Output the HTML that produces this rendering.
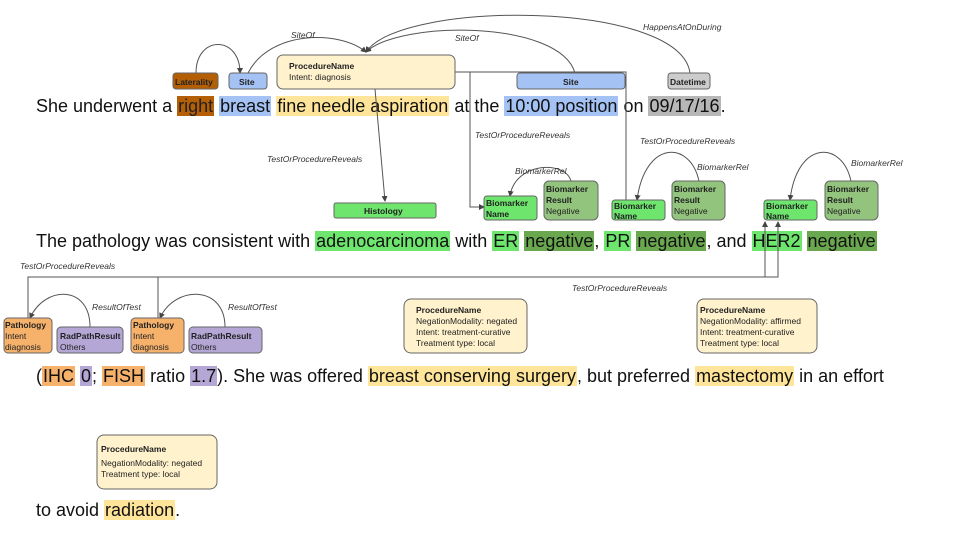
<!DOCTYPE html>
<html><head><meta charset="utf-8"><style>
body{margin:0;width:960px;height:540px;background:#fff;position:relative;overflow:hidden;font-family:"Liberation Sans",Arial,sans-serif}
.s{position:absolute;left:36px;font-size:18px;white-space:nowrap;color:#111;line-height:22px}
.s span{padding:0 1px}
.br{background:#b45f06;color:#222}.bl{background:#a4c2f4}.ye{background:#ffe599}.gr{background:#b7b7b7}
.g1{background:#6ee66e}.g2{background:#6aa84f}.or{background:#f6b26b}.lv{background:#b4a7d6}
svg{position:absolute;left:0;top:0}
svg text{font-family:"Liberation Sans",Arial,sans-serif}
</style></head><body>
<div class="s" style="top:95px">She underwent a <span class="br">right</span> <span class="bl">breast</span> <span class="ye">fine needle aspiration</span> at the <span class="bl">10:00 position</span> on <span class="gr">09/17/16</span>.</div>
<div class="s" style="top:230px">The pathology was consistent with <span class="g1">adenocarcinoma</span> with <span class="g1">ER</span> <span class="g2">negative</span>, <span class="g1">PR</span> <span class="g2">negative</span>, and <span class="g1">HER2</span> <span class="g2">negative</span></div>
<div class="s" style="top:365px">(<span class="or">IHC</span> <span class="lv">0</span>; <span class="or">FISH</span> ratio <span class="lv">1.7</span>). She was offered <span class="ye">breast conserving surgery</span>, but preferred <span class="ye">mastectomy</span> in an effort</div>
<div class="s" style="top:499px">to avoid <span class="ye">radiation</span>.</div>
<svg width="960" height="540" viewBox="0 0 960 540">
<defs><marker id="a" markerWidth="6" markerHeight="6" refX="5" refY="3" orient="auto"><path d="M0,0L6,3L0,6z" fill="#444"/></marker></defs>
<g fill="none" stroke="#555" stroke-width="1">
<path d="M196,73 C196,35 240,35 240,73" marker-end="url(#a)"/>
<path d="M248,73 C270,30 340,30 366,52" marker-end="url(#a)"/>
<path d="M575,73 C560,20 400,20 366,52" marker-end="url(#a)"/>
<path d="M690,73 C680,0 400,0 366,52" marker-end="url(#a)"/>
<path d="M455,72 H626 V205 H612" marker-end="url(#a)"/>
<path d="M470,72 V207 H484" marker-end="url(#a)"/>
<path d="M375,89 L385,201" marker-end="url(#a)"/>
<path d="M571,181 C565,160 515,162 510,196" marker-end="url(#a)"/>
<path d="M699,181 C690,140 645,140 637,200" marker-end="url(#a)"/>
<path d="M851,181 C842,140 797,140 790,200" marker-end="url(#a)"/>
<path d="M28,318 V277 H778 V222" marker-end="url(#a)"/>
<path d="M158,318 V277"/>
<path d="M765,277 V222" marker-end="url(#a)"/>
<path d="M90,327 C90,285 45,285 30,318" marker-end="url(#a)"/>
<path d="M225,327 C225,285 175,285 160,318" marker-end="url(#a)"/>
</g>
<g font-style="italic" font-size="8.5" fill="#333">
<text x="291" y="38">SiteOf</text><text x="455" y="41">SiteOf</text><text x="643" y="30">HappensAtOnDuring</text>
<text x="267" y="162">TestOrProcedureReveals</text><text x="475" y="138">TestOrProcedureReveals</text><text x="640" y="144">TestOrProcedureReveals</text>
<text x="515" y="174">BiomarkerRel</text><text x="697" y="170">BiomarkerRel</text><text x="851" y="166">BiomarkerRel</text>
<text x="20" y="269">TestOrProcedureReveals</text><text x="572" y="291">TestOrProcedureReveals</text>
<text x="92" y="310">ResultOfTest</text><text x="228" y="310">ResultOfTest</text>
</g>
<g stroke="#666" stroke-width="1">
<rect x="173" y="73" width="45" height="16" rx="3" fill="#b45f06"/>
<rect x="229" y="73" width="38" height="16" rx="3" fill="#a4c2f4"/>
<rect x="277" y="55" width="178" height="34" rx="6" fill="#fff2cc"/>
<rect x="517" y="73" width="108" height="16" rx="3" fill="#a4c2f4"/>
<rect x="668" y="73" width="42" height="16" rx="3" fill="#cccccc"/>
<rect x="334" y="203" width="102" height="15" rx="2" fill="#6ee66e"/>
<rect x="484" y="196" width="53" height="24" rx="3" fill="#6ee66e"/>
<rect x="544" y="181" width="54" height="39" rx="5" fill="#93c47d"/>
<rect x="612" y="200" width="53" height="20" rx="3" fill="#6ee66e"/>
<rect x="672" y="181" width="53" height="39" rx="5" fill="#93c47d"/>
<rect x="764" y="200" width="53" height="20" rx="3" fill="#6ee66e"/>
<rect x="825" y="181" width="53" height="39" rx="5" fill="#93c47d"/>
<rect x="4" y="318" width="48" height="35" rx="4" fill="#f6b26b"/>
<rect x="57" y="327" width="66" height="26" rx="4" fill="#b4a7d6"/>
<rect x="131" y="318" width="53" height="35" rx="4" fill="#f6b26b"/>
<rect x="189" y="327" width="73" height="26" rx="4" fill="#b4a7d6"/>
<rect x="404" y="299" width="123" height="54" rx="7" fill="#fff2cc"/>
<rect x="697" y="299" width="120" height="54" rx="7" fill="#fff2cc"/>
<rect x="97" y="435" width="120" height="54" rx="7" fill="#fff2cc"/>
</g>
<g font-size="8.5" fill="#222">
<text x="175" y="85" font-weight="bold">Laterality</text>
<text x="239" y="85" font-weight="bold">Site</text>
<text x="289" y="69" font-weight="bold">ProcedureName</text><text x="289" y="80">Intent: diagnosis</text>
<text x="563" y="85" font-weight="bold">Site</text>
<text x="670" y="85" font-weight="bold">Datetime</text>
<text x="364" y="214" font-weight="bold">Histology</text>
<text x="486" y="206" font-weight="bold">Biomarker</text><text x="486" y="217" font-weight="bold">Name</text>
<text x="546" y="192" font-weight="bold">Biomarker</text><text x="546" y="203" font-weight="bold">Result</text><text x="546" y="214">Negative</text>
<text x="614" y="209" font-weight="bold">Biomarker</text><text x="614" y="219" font-weight="bold">Name</text>
<text x="674" y="192" font-weight="bold">Biomarker</text><text x="674" y="203" font-weight="bold">Result</text><text x="674" y="214">Negative</text>
<text x="766" y="209" font-weight="bold">Biomarker</text><text x="766" y="219" font-weight="bold">Name</text>
<text x="827" y="192" font-weight="bold">Biomarker</text><text x="827" y="203" font-weight="bold">Result</text><text x="827" y="214">Negative</text>
<text x="5" y="328" font-weight="bold">Pathology</text><text x="5" y="339">Intent</text><text x="5" y="350">diagnosis</text>
<text x="60" y="339" font-weight="bold">RadPathResult</text><text x="60" y="350">Others</text>
<text x="133" y="328" font-weight="bold">Pathology</text><text x="133" y="339">Intent</text><text x="133" y="350">diagnosis</text>
<text x="191" y="339" font-weight="bold">RadPathResult</text><text x="191" y="350">Others</text>
<text x="416" y="313" font-weight="bold">ProcedureName</text><text x="416" y="324">NegationModality: negated</text><text x="416" y="335">Intent: treatment-curative</text><text x="416" y="346">Treatment type: local</text>
<text x="700" y="313" font-weight="bold">ProcedureName</text><text x="700" y="324">NegationModality: affirmed</text><text x="700" y="335">Intent: treatment-curative</text><text x="700" y="346">Treatment type: local</text>
<text x="101" y="452" font-weight="bold">ProcedureName</text><text x="101" y="466">NegationModality: negated</text><text x="101" y="477">Treatment type: local</text>
</g>
</svg>
</body></html>
